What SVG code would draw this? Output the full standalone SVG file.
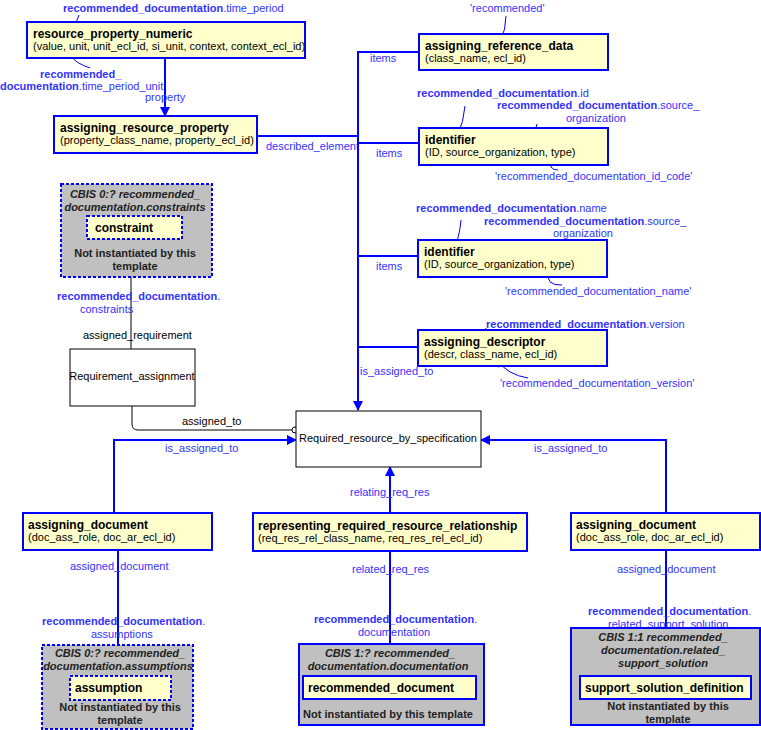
<svg xmlns="http://www.w3.org/2000/svg" width="761" height="730" viewBox="0 0 761 730">
<style>
text{font-family:"Liberation Sans",Arial,sans-serif;font-size:11px}
.ent{fill:#ffffcc;stroke:#0000ff;stroke-width:2}
.gray{fill:#c0c0c0;stroke:#0000ff;stroke-width:2}
.dash{stroke-dasharray:3,2}
.plain{fill:#fff;stroke:#000;stroke-width:1}
.t{font-weight:bold;font-size:12px;fill:#000}
.a{fill:#000}
.l{fill:#3333ff}
.b{font-weight:bold}
.gi{font-weight:bold;font-style:italic;fill:#222}
.gn{font-weight:bold;fill:#222}
.c{fill:none;stroke:#0000ff;stroke-width:2}
.k{fill:none;stroke:#000;stroke-width:1}
.n{fill:none;stroke:#0000ff;stroke-width:1}
</style>
<defs>
<marker id="ar" markerWidth="10" markerHeight="10" refX="9" refY="5" orient="auto" markerUnits="userSpaceOnUse"><path d="M0,0L10,5L0,10z" fill="#0000ff"/></marker>
<marker id="oa" markerWidth="8" markerHeight="8" refX="7" refY="4" orient="auto" markerUnits="userSpaceOnUse"><path d="M0,0L7,4L0,8" fill="none" stroke="#0000ff"/></marker>
</defs>
<g id="connectors">
<path class="c" d="M165,58V116" marker-end="url(#ar)"/>
<text class="l" x="145" y="101">property</text>
<path class="c" d="M257,136H358"/>
<text class="l" x="266" y="150">described_element</text>
<path class="c" d="M419,52H358V410" marker-end="url(#ar)"/>
<path class="c" d="M419,143H358M418,256H358M418,347H358"/>
<text class="l" x="370" y="62">items</text>
<text class="l" x="376" y="157">items</text>
<text class="l" x="376" y="270">items</text>
<text class="l" x="360" y="375">is_assigned_to</text>
<path class="k" d="M131,246V349"/>
<circle cx="131" cy="243" r="3" fill="#fff" stroke="#000"/>
<text class="l" x="57" y="300"><tspan class="b">recommended_documentation</tspan>.</text>
<text class="l" x="80" y="313">constraints</text>
<text class="a" x="83" y="339">assigned_requirement</text>
<path class="k" d="M132,406V424Q132,430 138,430H292"/>
<circle cx="295" cy="430" r="3" fill="#fff" stroke="#000"/>
<text class="a" x="182" y="425">assigned_to</text>
<path class="c" d="M114,513V440H296" marker-end="url(#ar)"/>
<text class="l" x="165" y="452">is_assigned_to</text>
<path class="c" d="M666,513V440H481" marker-end="url(#ar)"/>
<text class="l" x="534" y="452">is_assigned_to</text>
<path class="c" d="M390,513V467" marker-end="url(#ar)"/>
<text class="l" x="350" y="496">relating_req_res</text>
<path class="c" d="M118,550V676" marker-end="url(#ar)"/>
<text class="l" x="70" y="570">assigned_document</text>
<text class="l" x="42" y="625"><tspan class="b">recommended_documentation</tspan>.</text>
<text class="l" x="91" y="638">assumptions</text>
<path class="c" d="M390,551V676" marker-end="url(#ar)"/>
<text class="l" x="352" y="573">related_req_res</text>
<text class="l" x="314" y="623"><tspan class="b">recommended_documentation</tspan>.</text>
<text class="l" x="358" y="636">documentation</text>
<path class="c" d="M666,550V676" marker-end="url(#ar)"/>
<text class="l" x="617" y="573">assigned_document</text>
<text class="l" x="588" y="615"><tspan class="b">recommended_documentation</tspan>.</text>
<text class="l" x="608" y="628">related_support_solution</text>
</g>
<g id="annotations">
<text class="l" x="63" y="12"><tspan class="b">recommended_documentation</tspan>.time_period</text>
<path class="n" d="M79,15Q72,40 54,41" marker-end="url(#oa)"/>
<text class="l b" x="40" y="78">recommended_</text>
<text class="l" x="0" y="90"><tspan class="b">documentation</tspan>.time_period_unit</text>
<path class="n" d="M90,68Q62,58 80,50" marker-end="url(#oa)"/>
<text class="l" x="470" y="12">'recommended'</text>
<path class="n" d="M506,16Q505,45 488,52" marker-end="url(#oa)"/>
<text class="l b" x="417" y="97">recommended_documentation<tspan font-weight="normal">.id</tspan></text>
<path class="n" d="M465,106Q462,140 442,152" marker-end="url(#oa)"/>
<text class="l b" x="497" y="109">recommended_documentation<tspan font-weight="normal">.source_</tspan></text>
<text class="l" x="566" y="122">organization</text>
<path class="n" d="M537,124Q534,142 518,144" marker-end="url(#oa)"/>
<text class="l" x="495" y="180">'recommended_documentation_id_code'</text>
<path class="n" d="M558,170Q548,170 550,158" marker-end="url(#oa)"/>
<text class="l b" x="416" y="212">recommended_documentation<tspan font-weight="normal">.name</tspan></text>
<path class="n" d="M461,220Q458,255 438,267" marker-end="url(#oa)"/>
<text class="l b" x="484" y="225">recommended_documentation<tspan font-weight="normal">.source_</tspan></text>
<text class="l" x="553" y="237">organization</text>
<path class="n" d="M533,240Q530,258 514,259" marker-end="url(#oa)"/>
<text class="l" x="505" y="295">'recommended_documentation_name'</text>
<path class="n" d="M562,285Q545,286 548,270" marker-end="url(#oa)"/>
<text class="l b" x="486" y="328">recommended_documentation<tspan font-weight="normal">.version</tspan></text>
<path class="n" d="M486,328Q475,352 448,353" marker-end="url(#oa)"/>
<text class="l" x="500" y="387">'recommended_documentation_version'</text>
<path class="n" d="M528,378Q508,375 497,360" marker-end="url(#oa)"/>
</g>
<g id="resource_property_numeric"><rect class="ent" x="27" y="22" width="278" height="36"/><text class="t" x="33" y="38">resource_property_numeric</text><text class="a" x="33" y="50">(value, unit, unit_ecl_id, si_unit, context, context_ecl_id)</text></g>
<g id="assigning_resource_property"><rect class="ent" x="54" y="116" width="203" height="37"/><text class="t" x="60" y="132">assigning_resource_property</text><text class="a" x="60" y="144">(property_class_name, property_ecl_id)</text></g>
<g id="cbis_constraint"><rect class="gray dash" x="61" y="184" width="151" height="93"/><text class="gi" x="135" y="198" text-anchor="middle">CBIS 0:? recommended_</text><text class="gi" x="135" y="211" text-anchor="middle">documentation.constraints</text><rect class="ent dash" x="87" y="216" width="95" height="23"/><text class="t" x="95" y="232">constraint</text><text class="gn" x="135" y="257" text-anchor="middle">Not instantiated by this</text><text class="gn" x="135" y="270" text-anchor="middle">template</text></g>
<g id="Requirement_assignment"><rect class="plain" x="70" y="349" width="125" height="57"/><text class="a" x="132" y="380" text-anchor="middle">Requirement_assignment</text></g>
<g id="Required_resource_by_specification"><rect class="plain" x="296" y="411" width="185" height="56"/><text class="a" x="388" y="442" text-anchor="middle">Required_resource_by_specification</text></g>
<g id="assigning_reference_data"><rect class="ent" x="419" y="34" width="189" height="36"/><text class="t" x="425" y="50">assigning_reference_data</text><text class="a" x="425" y="62">(class_name, ecl_id)</text></g>
<g id="identifier1"><rect class="ent" x="419" y="128" width="189" height="37"/><text class="t" x="425" y="144">identifier</text><text class="a" x="425" y="156">(ID, source_organization, type)</text></g>
<g id="identifier2"><rect class="ent" x="418" y="240" width="189" height="37"/><text class="t" x="424" y="256">identifier</text><text class="a" x="424" y="268">(ID, source_organization, type)</text></g>
<g id="assigning_descriptor"><rect class="ent" x="418" y="330" width="189" height="36"/><text class="t" x="424" y="346">assigning_descriptor</text><text class="a" x="424" y="358">(descr, class_name, ecl_id)</text></g>
<g id="assigning_document_left"><rect class="ent" x="23" y="513" width="189" height="37"/><text class="t" x="28" y="529">assigning_document</text><text class="a" x="28" y="541">(doc_ass_role, doc_ar_ecl_id)</text></g>
<g id="representing_required_resource_relationship"><rect class="ent" x="253" y="513" width="274" height="38"/><text class="t" x="258" y="530">representing_required_resource_relationship</text><text class="a" x="258" y="542">(req_res_rel_class_name, req_res_rel_ecl_id)</text></g>
<g id="assigning_document_right"><rect class="ent" x="571" y="513" width="189" height="37"/><text class="t" x="576" y="529">assigning_document</text><text class="a" x="576" y="541">(doc_ass_role, doc_ar_ecl_id)</text></g>
<g id="cbis_assumption"><rect class="gray dash" x="42" y="645" width="151" height="84"/><text class="gi" x="120" y="657" text-anchor="middle">CBIS 0:? recommended_</text><text class="gi" x="118" y="670" text-anchor="middle">documentation.assumptions</text><rect class="ent dash" x="70" y="676" width="101" height="24"/><text class="t" x="75" y="692">assumption</text><text class="gn" x="120" y="711" text-anchor="middle">Not instantiated by this</text><text class="gn" x="120" y="724" text-anchor="middle">template</text></g>
<g id="cbis_documentation"><rect class="gray" x="299" y="644" width="185" height="81"/><text class="gi" x="390" y="657" text-anchor="middle">CBIS 1:? recommended_</text><text class="gi" x="388" y="670" text-anchor="middle">documentation.documentation</text><rect class="ent" x="303" y="676" width="173" height="23"/><text class="t" x="308" y="692">recommended_document</text><text class="gn" x="388" y="718" text-anchor="middle">Not instantiated by this template</text></g>
<g id="cbis_support"><rect class="gray" x="571" y="628" width="189" height="97"/><text class="gi" x="663" y="641" text-anchor="middle">CBIS 1:1 recommended_</text><text class="gi" x="663" y="654" text-anchor="middle">documentation.related_</text><text class="gi" x="663" y="667" text-anchor="middle">support_solution</text><rect class="ent" x="580" y="676" width="171" height="23"/><text class="t" x="585" y="692">support_solution_definition</text><text class="gn" x="668" y="710" text-anchor="middle">Not instantiated by this</text><text class="gn" x="668" y="723" text-anchor="middle">template</text></g>
</svg>
